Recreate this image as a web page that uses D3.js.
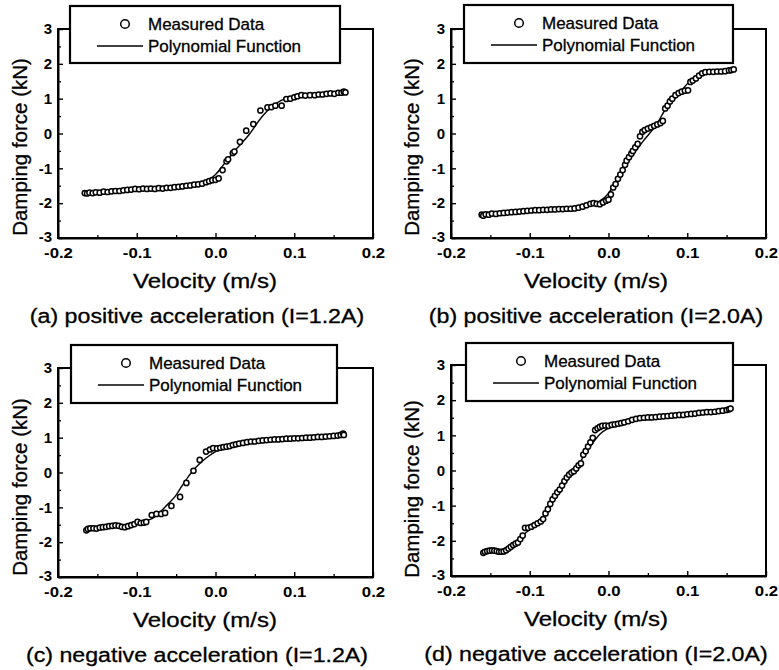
<!DOCTYPE html>
<html><head><meta charset="utf-8">
<script src="https://cdn.jsdelivr.net/npm/d3@7/dist/d3.min.js"></script>
<style>
html,body{margin:0;padding:0;background:#fff;}
svg{display:block;}
text{font-family:"Liberation Sans",Arial,Helvetica,sans-serif;fill:#000;}
</style></head>
<body>
<svg id="chart" width="779" height="670"></svg>
<script>
// ---------- DATA ----------
const xTickValues = [-0.2, -0.1, 0.0, 0.1, 0.2];
const xMinorValues = [-0.15, -0.05, 0.05, 0.15];
const yTickValues = [-3, -2, -1, 0, 1, 2, 3];
const yMinorValues = [-2.5, -1.5, -0.5, 0.5, 1.5, 2.5];
const xTitle = "Velocity (m/s)";
const yTitle = "Damping force (kN)";
const legendLabels = ["Measured Data", "Polynomial Function"];
const captions = [
  "(a) positive acceleration (I=1.2A)",
  "(b) positive acceleration (I=2.0A)",
  "(c) negative acceleration (I=1.2A)",
  "(d) negative acceleration (I=2.0A)"
];

// (a) measured [velocity, force]
const measuredA = [
[-0.166,-1.71],[-0.163,-1.72],[-0.160,-1.70],[-0.156,-1.71],[-0.152,-1.69],[-0.147,-1.70],[-0.142,-1.67],
[-0.137,-1.68],[-0.132,-1.66],[-0.127,-1.65],[-0.122,-1.65],[-0.117,-1.63],[-0.112,-1.62],[-0.107,-1.61],
[-0.102,-1.59],[-0.097,-1.60],[-0.092,-1.58],[-0.087,-1.59],[-0.082,-1.58],[-0.077,-1.59],[-0.072,-1.57],
[-0.067,-1.58],[-0.062,-1.56],[-0.057,-1.56],[-0.052,-1.54],[-0.047,-1.53],[-0.042,-1.52],[-0.037,-1.50],
[-0.032,-1.49],[-0.027,-1.47],[-0.022,-1.46],[-0.017,-1.44],[-0.012,-1.40],[-0.008,-1.37],[-0.004,-1.34],
[0.000,-1.33],[0.004,-1.29],[0.009,-1.05],[0.014,-0.80],[0.016,-0.74],[0.022,-0.56],[0.024,-0.52],
[0.031,-0.24],[0.039,0.08],[0.048,0.27],[0.057,0.66],[0.066,0.75],[0.071,0.76],[0.076,0.80],[0.084,0.80],
[0.090,0.99],[0.095,1.00],[0.100,1.04],[0.104,1.07],[0.109,1.10],[0.114,1.09],[0.120,1.10],[0.126,1.10],
[0.131,1.12],[0.136,1.12],[0.141,1.14],[0.146,1.15],[0.151,1.14],[0.156,1.17],[0.160,1.17],[0.163,1.20],[0.165,1.18]
];
const fitA = [
[-0.166,-1.72],[-0.12,-1.65],[-0.08,-1.58],[-0.04,-1.50],[-0.02,-1.43],[-0.01,-1.35],[0.0,-1.18],
[0.01,-0.90],[0.025,-0.48],[0.042,-0.05],[0.059,0.48],[0.071,0.76],[0.084,0.96],[0.097,1.04],
[0.12,1.10],[0.145,1.16],[0.1666,1.24]
];

// (b)
const measuredB = [
[-0.161,-2.33],[-0.159,-2.36],[-0.156,-2.32],[-0.152,-2.33],[-0.148,-2.30],[-0.143,-2.31],[-0.138,-2.29],
[-0.133,-2.28],[-0.128,-2.27],[-0.123,-2.26],[-0.118,-2.25],[-0.113,-2.24],[-0.108,-2.23],[-0.103,-2.22],
[-0.098,-2.21],[-0.093,-2.20],[-0.088,-2.20],[-0.083,-2.19],[-0.078,-2.19],[-0.073,-2.18],[-0.068,-2.18],
[-0.063,-2.17],[-0.058,-2.17],[-0.053,-2.16],[-0.048,-2.16],[-0.043,-2.15],[-0.038,-2.13],[-0.033,-2.10],
[-0.028,-2.06],[-0.023,-2.02],[-0.019,-2.00],[-0.015,-2.02],[-0.011,-2.03],[-0.007,-1.98],[-0.003,-1.93],
[0.000,-1.90],[0.003,-1.75],[0.006,-1.55],[0.009,-1.45],[0.012,-1.30],[0.015,-1.18],[0.018,-1.05],
[0.021,-0.90],[0.023,-0.78],[0.026,-0.68],[0.029,-0.58],[0.031,-0.50],[0.034,-0.40],[0.037,-0.30],
[0.040,-0.08],[0.043,0.05],[0.046,0.10],[0.050,0.14],[0.054,0.18],[0.058,0.22],[0.062,0.26],[0.066,0.30],
[0.069,0.36],[0.072,0.72],[0.075,0.80],[0.078,0.92],[0.081,1.00],[0.085,1.10],[0.089,1.16],[0.093,1.20],
[0.097,1.23],[0.101,1.24],[0.104,1.48],[0.107,1.52],[0.111,1.58],[0.115,1.66],[0.119,1.73],[0.123,1.76],
[0.128,1.77],[0.133,1.77],[0.138,1.78],[0.143,1.78],[0.148,1.79],[0.153,1.81],[0.156,1.82],[0.159,1.84]
];
const fitB = [
[-0.161,-2.35],[-0.14,-2.30],[-0.12,-2.26],[-0.10,-2.22],[-0.08,-2.19],[-0.06,-2.17],[-0.04,-2.13],
[-0.025,-2.07],[-0.012,-1.95],[0.0,-1.72],[0.013,-1.20],[0.0285,-0.70],[0.044,-0.22],[0.061,0.26],
[0.0735,0.74],[0.089,1.12],[0.101,1.45],[0.113,1.66],[0.125,1.76],[0.14,1.79],[0.159,1.84]
];

// (c)
const measuredC = [
[-0.164,-1.66],[-0.162,-1.62],[-0.159,-1.60],[-0.155,-1.60],[-0.151,-1.61],[-0.147,-1.58],[-0.143,-1.57],
[-0.139,-1.56],[-0.135,-1.54],[-0.131,-1.53],[-0.127,-1.52],[-0.123,-1.53],[-0.119,-1.56],[-0.115,-1.57],
[-0.111,-1.54],[-0.107,-1.51],[-0.103,-1.48],[-0.099,-1.42],[-0.095,-1.45],[-0.091,-1.44],[-0.088,-1.42],
[-0.081,-1.22],[-0.075,-1.19],[-0.069,-1.19],[-0.064,-1.16],[-0.056,-0.96],[-0.045,-0.70],[-0.037,-0.30],
[-0.028,0.05],[-0.020,0.36],[-0.012,0.60],[-0.007,0.66],[-0.003,0.70],[0.002,0.69],[0.006,0.71],[0.010,0.73],
[0.014,0.74],[0.018,0.76],[0.022,0.79],[0.026,0.81],[0.030,0.83],[0.035,0.85],[0.040,0.87],[0.045,0.89],
[0.050,0.89],[0.055,0.91],[0.060,0.92],[0.065,0.93],[0.070,0.94],[0.075,0.95],[0.080,0.95],[0.085,0.96],
[0.090,0.97],[0.095,0.97],[0.100,0.98],[0.105,0.98],[0.110,0.99],[0.115,1.00],[0.120,1.00],[0.125,1.01],
[0.130,1.02],[0.135,1.02],[0.140,1.03],[0.145,1.04],[0.150,1.05],[0.155,1.06],[0.159,1.08],[0.162,1.12],[0.163,1.08]
];
const fitC = [
[-0.164,-1.67],[-0.14,-1.60],[-0.115,-1.53],[-0.095,-1.43],[-0.085,-1.37],[-0.075,-1.24],[-0.068,-1.08],
[-0.06,-0.90],[-0.051,-0.68],[-0.043,-0.40],[-0.0345,-0.12],[-0.026,0.12],[-0.0175,0.31],[-0.008,0.48],
[0.0,0.60],[0.012,0.72],[0.033,0.82],[0.055,0.89],[0.075,0.94],[0.10,0.97],[0.125,1.00],[0.15,1.05],[0.164,1.11]
];

// (d)
const measuredD = [
[-0.159,-2.34],[-0.157,-2.31],[-0.154,-2.29],[-0.151,-2.28],[-0.148,-2.27],[-0.145,-2.28],[-0.142,-2.29],
[-0.139,-2.31],[-0.136,-2.31],[-0.133,-2.30],[-0.130,-2.27],[-0.127,-2.22],[-0.124,-2.17],[-0.121,-2.12],
[-0.118,-2.08],[-0.115,-2.05],[-0.112,-1.95],[-0.109,-1.85],[-0.106,-1.63],[-0.102,-1.63],[-0.098,-1.60],
[-0.094,-1.55],[-0.090,-1.50],[-0.086,-1.45],[-0.083,-1.38],[-0.080,-1.22],[-0.077,-1.10],[-0.074,-0.95],
[-0.071,-0.82],[-0.068,-0.72],[-0.065,-0.62],[-0.062,-0.54],[-0.059,-0.43],[-0.056,-0.30],[-0.053,-0.20],
[-0.050,-0.12],[-0.047,-0.06],[-0.044,-0.02],[-0.041,0.06],[-0.038,0.15],[-0.035,0.20],[-0.032,0.45],
[-0.029,0.55],[-0.026,0.68],[-0.023,0.80],[-0.020,0.93],[-0.017,1.15],[-0.014,1.20],[-0.011,1.24],
[-0.008,1.27],[-0.004,1.28],[0.000,1.27],[0.004,1.30],[0.008,1.31],[0.012,1.33],[0.016,1.35],[0.020,1.37],
[0.025,1.40],[0.030,1.44],[0.035,1.47],[0.040,1.49],[0.045,1.50],[0.050,1.51],[0.055,1.51],[0.060,1.52],
[0.065,1.53],[0.070,1.54],[0.075,1.55],[0.080,1.56],[0.085,1.57],[0.090,1.58],[0.095,1.58],[0.100,1.60],
[0.105,1.61],[0.110,1.62],[0.115,1.64],[0.120,1.65],[0.125,1.66],[0.130,1.66],[0.135,1.67],[0.140,1.69],
[0.145,1.70],[0.150,1.72],[0.153,1.74],[0.155,1.76]
];
const fitD = [
[-0.159,-2.35],[-0.145,-2.30],[-0.135,-2.25],[-0.125,-2.13],[-0.115,-1.96],[-0.10,-1.68],[-0.09,-1.50],
[-0.08,-1.25],[-0.07,-0.88],[-0.06,-0.55],[-0.05,-0.20],[-0.04,0.10],[-0.03,0.45],[-0.02,0.78],
[-0.01,1.05],[0.0,1.20],[0.01,1.30],[0.025,1.40],[0.04,1.47],[0.06,1.52],[0.08,1.56],[0.10,1.60],
[0.12,1.65],[0.14,1.69],[0.155,1.75]
];

// ---------- LAYOUT ----------
const panels = [
  {measured: measuredA, fit: fitA, caption: captions[0], box:{l:58,r:373,t:29,b:238},  leg:{x:70,y:6,w:270,h:57},  ytx:20,  yty:147, xtx:205, capx:197},
  {measured: measuredB, fit: fitB, caption: captions[1], box:{l:451,r:766,t:29,b:238}, leg:{x:464,y:5,w:269,h:58}, ytx:412, yty:147, xtx:596, capx:596},
  {measured: measuredC, fit: fitC, caption: captions[2], box:{l:58,r:373,t:368,b:577}, leg:{x:71,y:345,w:266,h:58}, ytx:20, yty:487, xtx:205, capx:197},
  {measured: measuredD, fit: fitD, caption: captions[3], box:{l:451,r:766,t:365,b:576}, leg:{x:466,y:343,w:267,h:58}, ytx:412, yty:489, xtx:596, capx:596}
];
const HS = 1.2;       // horizontal stretch of the scanned lettering (axis titles)
const HSC = 1.16;     // horizontal stretch for captions
const INK = 0.3;      // extra stroke to mimic heavy scanned text

const svg = d3.select("#chart");

panels.forEach(p => {
  const x = d3.scaleLinear().domain([-0.2, 0.2]).range([p.box.l, p.box.r]);
  const y = d3.scaleLinear().domain([-3, 3]).range([p.box.b, p.box.t]);
  const g = svg.append("g");

  // frame (top & right)
  g.append("rect").attr("x", p.box.l).attr("y", p.box.t)
    .attr("width", p.box.r - p.box.l).attr("height", p.box.b - p.box.t)
    .attr("fill", "none").attr("stroke", "#000").attr("stroke-width", 2);

  // x axis
  const xAxis = d3.axisBottom(x).tickValues(xTickValues).tickSize(-5).tickSizeOuter(0)
    .tickPadding(9).tickFormat(d => d.toFixed(1));
  const gx = g.append("g").attr("transform", `translate(0,${p.box.b})`).call(xAxis);
  gx.select(".domain").attr("stroke-width", 2);
  gx.selectAll(".tick line").attr("stroke-width", 1.4);
  gx.selectAll("text").attr("font-size", 15.5).attr("font-weight", "bold")
    .attr("font-family", '"Liberation Sans",Arial,sans-serif')
    .attr("transform", "scale(1.08,1)");
  const gxm = g.append("g").attr("transform", `translate(0,${p.box.b})`)
    .call(d3.axisBottom(x).tickValues(xMinorValues).tickSize(-3).tickSizeOuter(0).tickFormat(""));
  gxm.select(".domain").remove();
  gxm.selectAll(".tick line").attr("stroke-width", 1.3);

  // y axis
  const yAxis = d3.axisLeft(y).tickValues(yTickValues).tickSize(-5).tickSizeOuter(0)
    .tickPadding(6).tickFormat(d => String(d));
  const gy = g.append("g").attr("transform", `translate(${p.box.l},0)`).call(yAxis);
  gy.select(".domain").attr("stroke-width", 2);
  gy.selectAll(".tick line").attr("stroke-width", 1.4);
  gy.selectAll("text").attr("font-size", 15).attr("font-weight", "bold")
    .attr("font-family", '"Liberation Sans",Arial,sans-serif')
    .attr("dy", d => d === -3 ? "0.2em" : "0.32em");
  const gym = g.append("g").attr("transform", `translate(${p.box.l},0)`)
    .call(d3.axisLeft(y).tickValues(yMinorValues).tickSize(-3).tickSizeOuter(0).tickFormat(""));
  gym.select(".domain").remove();
  gym.selectAll(".tick line").attr("stroke-width", 1.3);

  // fit line
  const line = d3.line().x(d => x(d[0])).y(d => y(d[1])).curve(d3.curveMonotoneX);
  g.append("path").datum(p.fit).attr("d", line)
    .attr("fill", "none").attr("stroke", "#000").attr("stroke-width", 1.4);

  // measured points
  g.selectAll("circle.pt").data(p.measured).join("circle").attr("class", "pt")
    .attr("cx", d => x(d[0])).attr("cy", d => y(d[1])).attr("r", 2.6)
    .attr("fill", "#fff").attr("stroke", "#000").attr("stroke-width", 1.5);

  // legend
  const L = p.leg;
  g.append("rect").attr("x", L.x).attr("y", L.y).attr("width", L.w).attr("height", L.h)
    .attr("fill", "#fff").attr("stroke", "#000").attr("stroke-width", 2.2);
  g.append("circle").attr("cx", L.x + 55).attr("cy", L.y + 18).attr("r", 4.3)
    .attr("fill", "#fff").attr("stroke", "#000").attr("stroke-width", 1.5);
  g.append("text").attr("x", L.x + 78).attr("y", L.y + 18).attr("dy", "0.35em")
    .attr("font-size", 17).attr("stroke", "#000").attr("stroke-width", INK).text(legendLabels[0]);
  g.append("line").attr("x1", L.x + 27).attr("x2", L.x + 73).attr("y1", L.y + 40).attr("y2", L.y + 40)
    .attr("stroke", "#000").attr("stroke-width", 1.3);
  g.append("text").attr("x", L.x + 78).attr("y", L.y + 40).attr("dy", "0.35em")
    .attr("font-size", 17).attr("stroke", "#000").attr("stroke-width", INK).text(legendLabels[1]);

  // axis titles
  g.append("text").attr("transform", `translate(${p.xtx},${p.box.b + 50}) scale(${HS},1)`)
    .attr("text-anchor", "middle").attr("font-size", 20)
    .attr("stroke", "#000").attr("stroke-width", INK).text(xTitle);
  g.append("text").attr("transform", `translate(${p.ytx},${p.yty}) rotate(-90)`)
    .attr("text-anchor", "middle").attr("dy", "0.35em").attr("font-size", 20.5)
    .attr("stroke", "#000").attr("stroke-width", INK).text(yTitle);

  // caption
  g.append("text").attr("transform", `translate(${p.capx},${p.box.b + 85}) scale(${HSC},1)`)
    .attr("text-anchor", "middle").attr("font-size", 20)
    .attr("stroke", "#000").attr("stroke-width", INK).text(p.caption);
});
</script>
</body></html>
